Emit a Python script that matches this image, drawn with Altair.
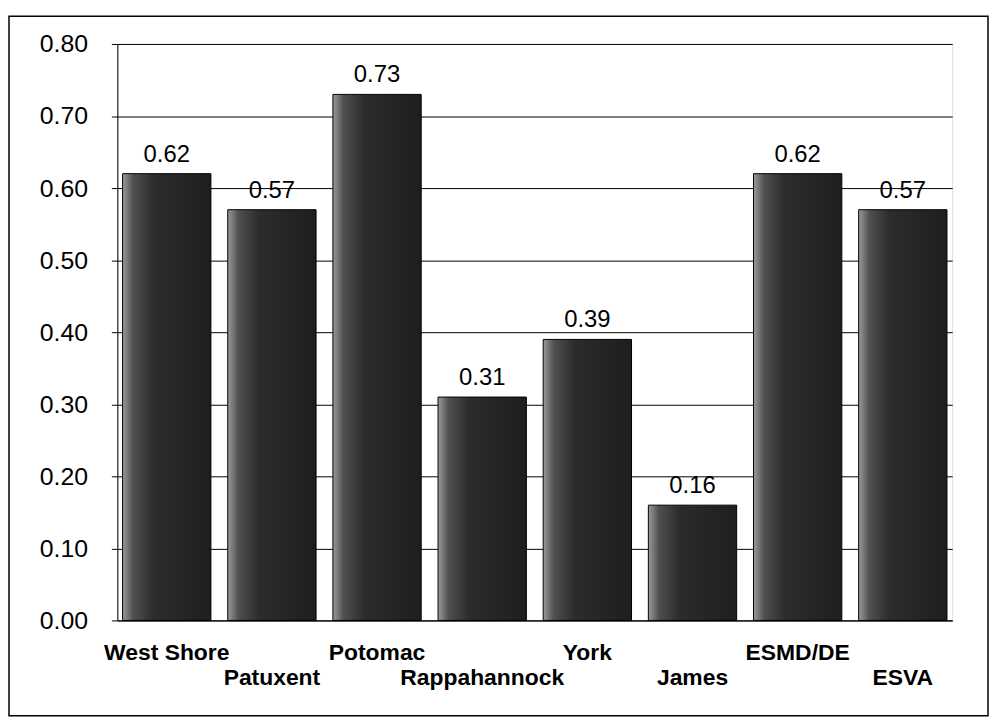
import altair as alt
import pandas as pd

regions = ["West Shore", "Patuxent", "Potomac", "Rappahannock", "York", "James", "ESMD/DE", "ESVA"]
values = [0.62, 0.57, 0.73, 0.31, 0.39, 0.16, 0.62, 0.57]
y_ticks = [0.0, 0.1, 0.2, 0.3, 0.4, 0.5, 0.6, 0.7, 0.8]

df = pd.DataFrame({"region": regions, "value": values})
lower_row = regions[1::2]
lower_list = "[" + ",".join("'" + r + "'" for r in lower_row) + "]"

FONT = "Liberation Sans"

grad = alt.LinearGradient(
    gradient="linear", x1=0, x2=1, y1=0, y2=0,
    stops=[
        alt.GradientStop(color="#9a9a9a", offset=0),
        alt.GradientStop(color="#505050", offset=0.12),
        alt.GradientStop(color="#2c2c2c", offset=0.35),
        alt.GradientStop(color="#1e1e1e", offset=1),
    ],
)

x_enc = alt.X(
    "region:N", sort=regions, title=None,
    scale=alt.Scale(paddingInner=0.16, paddingOuter=0.05),
    axis=alt.Axis(
        labelAngle=0, ticks=False, labelFont=FONT, labelFontSize=23,
        labelFontWeight="bold", labelColor="black", labelOverlap=False,
        labelLimit=400, domainColor="black",
        labelPadding={"condition": {"test": "indexof(" + lower_list + ", datum.value) >= 0", "value": 46}, "value": 21},
    ),
)
y_enc = alt.Y(
    "value:Q", title=None,
    scale=alt.Scale(domain=[0, 0.8], nice=False),
    axis=alt.Axis(
        values=y_ticks, format=".2f", labelFont=FONT, labelFontSize=25,
        labelColor="black", tickColor="black", tickSize=6, labelPadding=24,
        domainColor="black", gridColor="black", gridWidth=1, grid=True,
    ),
)

base = alt.Chart(df)
bars = base.mark_bar(color=grad, stroke="black", strokeWidth=1).encode(x=x_enc, y=y_enc)
text = base.mark_text(dy=-7, baseline="bottom", fontSize=24, font=FONT, color="black").encode(
    x=alt.X("region:N", sort=regions),
    y="value:Q",
    text=alt.Text("value:Q", format=".2f"),
)
border = alt.Chart(pd.DataFrame({"k": [0]})).mark_rect(
    filled=False, stroke="black", strokeWidth=1.5, clip=False
).encode(x=alt.value(-109), x2=alt.value(876), y=alt.value(-28), y2=alt.value(676))

chart = alt.layer(bars, text, border).properties(
    width=840, height=580,
    autosize=alt.AutoSizeParams(type="none"),
    padding={"left": 110, "top": 34, "right": 38, "bottom": 100},
).configure_view(stroke="black", strokeWidth=1).configure(background="white")

chart.save("out.html", embed_options={"renderer": "svg", "actions": False})
